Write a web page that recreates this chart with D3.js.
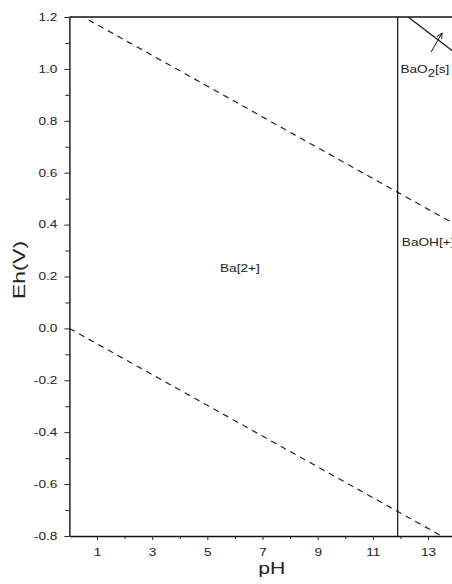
<!DOCTYPE html>
<html>
<head>
<meta charset="utf-8">
<script src="https://cdn.jsdelivr.net/npm/d3@7"></script>
<style>
  body { margin: 0; background: #fff; }
  svg { display: block; }
  text { font-family: "Liberation Sans", Arial, sans-serif; fill: #222; }
</style>
</head>
<body>
<svg id="chart" width="452" height="584"></svg>
<script>
// Eh–pH diagram for the Ba–O–H system
const phDomain = [0, 14];
const ehDomain = [-0.8, 1.2];

const xMajorTicks = [1, 3, 5, 7, 9, 11, 13];
const xTickLabels = ["1", "3", "5", "7", "9", "11", "13"];
const xMinorTicks = [2, 4, 6, 8, 10, 12];

const yMajorTicks = [-0.8, -0.6, -0.4, -0.2, 0, 0.2, 0.4, 0.6, 0.8, 1.0, 1.2];
const yTickLabels = ["-0.8", "-0.6", "-0.4", "-0.2", "0.0", "0.2", "0.4", "0.6", "0.8", "1.0", "1.2"];
const yMinorTicks = [-0.7, -0.5, -0.3, -0.1, 0.1, 0.3, 0.5, 0.7, 0.9, 1.1];

// water stability limits (dashed)
const waterUpper = [{ ph: 0, eh: 1.23 }, { ph: 14, eh: 0.40 }];
const waterLower = [{ ph: 0, eh: 0.0 }, { ph: 14, eh: -0.83 }];

// predominance boundaries (solid)
const baOhBoundary = [{ ph: 11.9, eh: 1.2 }, { ph: 11.9, eh: -0.8 }];
const bao2Boundary = [{ ph: 12.28, eh: 1.2 }, { ph: 14, eh: 1.06 }];

// species labels
const speciesLabels = [
  { text: "Ba[2+]", ph: 5.46, eh: 0.217 },
  { text: "BaOH[+]", ph: 12.05, eh: 0.318 }
];
const bao2Label = { ph: 12.0, eh: 0.984 };
const bao2Arrow = [{ ph: 13.11, eh: 1.065 }, { ph: 13.51, eh: 1.138 }];

const svg = d3.select("#chart");
const plotLeft = 69.4, plotRight = 455.6, plotTop = 17, plotBottom = 536;
const stretch = 1.3;

const x = d3.scaleLinear().domain(phDomain).range([plotLeft, plotRight]);
const y = d3.scaleLinear().domain(ehDomain).range([plotBottom, plotTop]);

const defs = svg.append("defs");
defs.append("clipPath").attr("id", "plot-clip")
  .append("rect").attr("x", plotLeft).attr("y", plotTop)
  .attr("width", plotRight - plotLeft).attr("height", plotBottom - plotTop);
defs.append("marker").attr("id", "arrowhead")
  .attr("viewBox", "0 0 10 10").attr("refX", 9).attr("refY", 5)
  .attr("markerWidth", 7).attr("markerHeight", 7)
  .attr("markerUnits", "userSpaceOnUse").attr("orient", "auto")
  .append("path").attr("d", "M1,1 L9,5 L1,9")
  .attr("fill", "none").attr("stroke", "#111").attr("stroke-width", 1.3);

const line = d3.line().x(d => x(d.ph)).y(d => y(d.eh));

const plot = svg.append("g").attr("clip-path", "url(#plot-clip)");

[waterUpper, waterLower].forEach(seg => {
  plot.append("path").datum(seg).attr("d", line)
    .attr("fill", "none").attr("stroke", "#222")
    .attr("stroke-width", 1.2).attr("stroke-dasharray", "6,5");
});

[baOhBoundary, bao2Boundary].forEach(seg => {
  plot.append("path").datum(seg).attr("d", line)
    .attr("fill", "none").attr("stroke", "#111").attr("stroke-width", 1.2);
});

svg.append("path").datum(bao2Arrow).attr("d", line)
  .attr("fill", "none").attr("stroke", "#111").attr("stroke-width", 1)
  .attr("marker-end", "url(#arrowhead)");

// horizontally widened label text
function wideText(parent, px, py, size) {
  return parent.append("g").attr("transform", `translate(${px},${py})`)
    .append("text").attr("transform", `scale(${stretch},1)`)
    .attr("font-size", size);
}

speciesLabels.forEach(d => {
  wideText(svg, x(d.ph), y(d.eh), 10.5).text(d.text);
});

const bt = wideText(svg, x(bao2Label.ph), y(bao2Label.eh), 10.5);
bt.append("tspan").text("BaO");
bt.append("tspan").attr("font-size", 10).attr("dy", 4).text("2");
bt.append("tspan").attr("dy", -4).text("[s]");

// axes
const yAxis = d3.axisLeft(y).tickValues(yMajorTicks)
  .tickFormat((d, i) => yTickLabels[i]).tickSize(5).tickSizeOuter(0);
const gy = svg.append("g").attr("transform", `translate(${plotLeft},0)`).call(yAxis);
gy.selectAll(".tick text").attr("x", -12 / stretch)
  .attr("transform", `scale(${stretch},1)`).attr("font-size", 10.5);

svg.append("g").attr("transform", `translate(${plotLeft},0)`)
  .call(d3.axisLeft(y).tickValues(yMinorTicks).tickFormat("").tickSize(4).tickSizeOuter(0))
  .select(".domain").remove();

const xAxis = d3.axisBottom(x).tickValues(xMajorTicks)
  .tickFormat((d, i) => xTickLabels[i]).tickSize(4).tickPadding(8.5).tickSizeOuter(0);
const gx = svg.append("g").attr("transform", `translate(0,${plotBottom})`).call(xAxis);
gx.selectAll(".tick text").attr("transform", `scale(${stretch},1)`).attr("font-size", 10.5);

svg.append("g").attr("transform", `translate(0,${plotBottom})`)
  .call(d3.axisBottom(x).tickValues(xMinorTicks).tickFormat("").tickSize(3).tickSizeOuter(0))
  .select(".domain").remove();

svg.selectAll(".domain").attr("stroke", "#111").attr("stroke-width", 1.4);
svg.selectAll(".tick line").attr("stroke", "#222").attr("stroke-width", 1);
svg.selectAll(".tick text").attr("fill", "#222")
  .attr("font-family", "'Liberation Sans', Arial, sans-serif");

// top and right frame
svg.append("line").attr("x1", plotLeft).attr("x2", plotRight).attr("y1", plotTop).attr("y2", plotTop)
  .attr("stroke", "#111").attr("stroke-width", 1.4);
svg.append("line").attr("x1", plotRight).attr("x2", plotRight).attr("y1", plotTop).attr("y2", plotBottom)
  .attr("stroke", "#111").attr("stroke-width", 1.4);

// axis titles
svg.append("text").attr("x", 271.7).attr("y", 574).attr("text-anchor", "middle")
  .attr("font-size", 16).attr("textLength", 27).attr("lengthAdjust", "spacingAndGlyphs")
  .text("pH");
svg.append("text").attr("transform", "translate(25,270) rotate(-90)")
  .attr("text-anchor", "middle").attr("font-size", 16)
  .attr("textLength", 58).attr("lengthAdjust", "spacingAndGlyphs")
  .text("Eh(V)");
</script>
</body>
</html>
